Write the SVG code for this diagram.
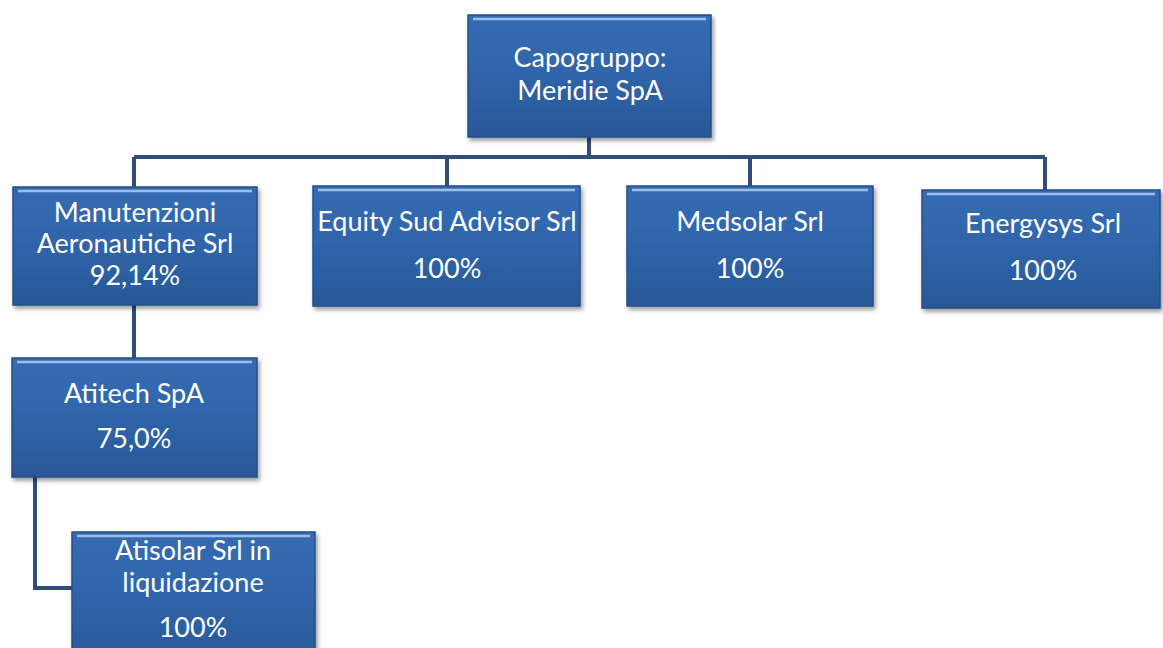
<svg xmlns="http://www.w3.org/2000/svg" width="1163" height="648" viewBox="0 0 1163 648">
<defs>
<linearGradient id="g" x1="0" y1="0" x2="0" y2="1">
<stop offset="0" stop-color="#356cb3"/>
<stop offset="0.5" stop-color="#2f64aa"/>
<stop offset="1" stop-color="#295898"/>
</linearGradient>
<filter id="sh" x="-5%" y="-5%" width="112%" height="115%">
<feDropShadow dx="2" dy="3" stdDeviation="2" flood-color="#000" flood-opacity="0.4"/>
</filter>
</defs>
<style>
.box{fill:url(#g);stroke:#234f88;stroke-width:1.5;filter:url(#sh)}
.hl{stroke:#b3cdee;stroke-width:2.5;opacity:0.85}
.t{font-family:Lato,"Open Sans","DejaVu Sans",sans-serif;font-size:27px;fill:#ffffff;text-anchor:middle}
.c{fill:none;stroke:#2f4f78;stroke-width:4}
</style>
<rect width="1163" height="648" fill="#ffffff"/>
<g id="connectors">
<path class="c" d="M589 137 V157 M134 157 H1045 M134 157 V187 M447 157 V186 M750 157 V186 M1045 157 V190"/>
<path class="c" d="M134 305 V358"/>
<path class="c" d="M35 477 V588 H72"/>
</g>
<g id="capogruppo">
<rect class="box" x="468" y="15" width="243" height="122"/>
<line class="hl" x1="473" y1="19" x2="706" y2="19"/>
<text class="t" x="590" y="67">Capogruppo:</text>
<text class="t" x="590" y="100">Meridie SpA</text>
</g>
<g id="manutenzioni">
<rect class="box" x="13" y="187" width="244" height="118"/>
<line class="hl" x1="18" y1="191" x2="252" y2="191"/>
<text class="t" x="135" y="222">Manutenzioni</text>
<text class="t" x="135" y="253">Aeronautiche Srl</text>
<text class="t" x="135" y="285">92,14%</text>
</g>
<g id="equity">
<rect class="box" x="313" y="186" width="267" height="120"/>
<line class="hl" x1="318" y1="190" x2="575" y2="190"/>
<text class="t" x="447" y="231">Equity Sud Advisor Srl</text>
<text class="t" x="447" y="278">100%</text>
</g>
<g id="medsolar">
<rect class="box" x="627" y="186" width="246" height="120"/>
<line class="hl" x1="632" y1="190" x2="868" y2="190"/>
<text class="t" x="750" y="231">Medsolar Srl</text>
<text class="t" x="750" y="278">100%</text>
</g>
<g id="energysys">
<rect class="box" x="922" y="190" width="238" height="118"/>
<line class="hl" x1="927" y1="194" x2="1155" y2="194"/>
<text class="t" x="1043" y="233">Energysys Srl</text>
<text class="t" x="1043" y="280">100%</text>
</g>
<g id="atitech">
<rect class="box" x="12" y="358" width="245" height="119"/>
<line class="hl" x1="17" y1="362" x2="252" y2="362"/>
<text class="t" x="134" y="403">Atitech SpA</text>
<text class="t" x="134" y="448">75,0%</text>
</g>
<g id="atisolar">
<rect class="box" x="72" y="532" width="243" height="130"/>
<line class="hl" x1="77" y1="536" x2="310" y2="536"/>
<text class="t" x="193" y="560">Atisolar Srl in</text>
<text class="t" x="193" y="592">liquidazione</text>
<text class="t" x="193" y="637">100%</text>
</g>
</svg>
